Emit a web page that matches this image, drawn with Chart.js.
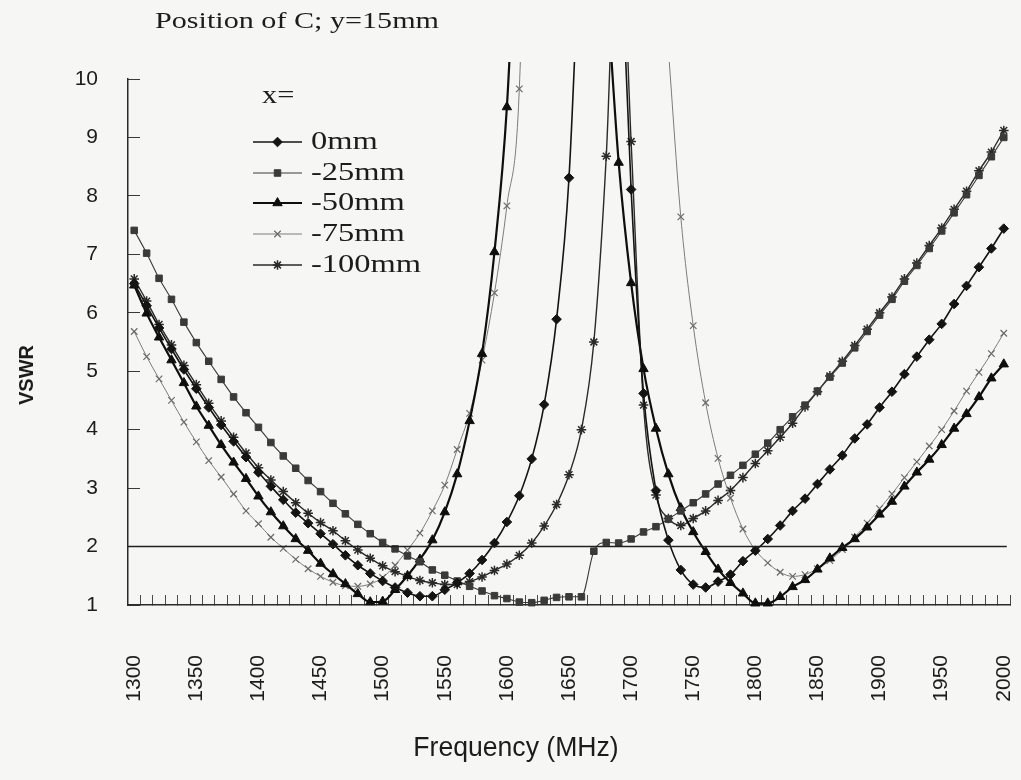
<!DOCTYPE html>
<html>
<head>
<meta charset="utf-8">
<title>VSWR vs Frequency</title>
<script src="https://cdn.jsdelivr.net/npm/chart.js@4.4.1/dist/chart.umd.min.js"></script>
<style>
  html, body { margin: 0; padding: 0; background: #f6f6f4; }
  #wrap { width: 1021px; height: 780px; position: relative; }
  canvas { display: block; }
</style>
</head>
<body>
<div id="wrap"><canvas id="chart" width="1021" height="780"></canvas></div>
<script>
// Frequency categories (MHz)
const frequencies = [
  1300, 1310, 1320, 1330, 1340, 1350, 1360, 1370, 1380, 1390,
  1400, 1410, 1420, 1430, 1440, 1450, 1460, 1470, 1480, 1490,
  1500, 1510, 1520, 1530, 1540, 1550, 1560, 1570, 1580, 1590,
  1600, 1610, 1620, 1630, 1640, 1650, 1660, 1670, 1680, 1690,
  1700, 1710, 1720, 1730, 1740, 1750, 1760, 1770, 1780, 1790,
  1800, 1810, 1820, 1830, 1840, 1850, 1860, 1870, 1880, 1890,
  1900, 1910, 1920, 1930, 1940, 1950, 1960, 1970, 1980, 1990, 2000
];

// Frequencies that carry a printed tick label
const labelledFrequencies = [1300, 1350, 1400, 1450, 1500, 1550, 1600, 1650, 1700, 1750, 1800, 1850, 1900, 1950, 2000];

// Y axis tick values
const vswrTicks = [1, 2, 3, 4, 5, 6, 7, 8, 9, 10];

// Reference level
const vswrLimit = 2;

// VSWR for x = 0 mm (null = far above the plotted range)
const vswrX0 = [
  6.50, 6.12, 5.74, 5.38, 5.03, 4.70, 4.38, 4.08, 3.80, 3.53,
  3.27, 3.03, 2.80, 2.58, 2.40, 2.22, 2.04, 1.85, 1.68, 1.54,
  1.41, 1.30, 1.21, 1.15, 1.15, 1.26, 1.38, 1.54, 1.77, 2.06,
  2.42, 2.87, 3.50, 4.43, 5.89, 8.31, 13.2, null, null, 13.3,
  8.11, 4.62, 2.96, 2.11, 1.60, 1.35, 1.30, 1.40, 1.52, 1.75,
  1.93, 2.13, 2.36, 2.61, 2.82, 3.07, 3.32, 3.56, 3.85, 4.09,
  4.38, 4.65, 4.95, 5.25, 5.54, 5.81, 6.15, 6.46, 6.78, 7.10, 7.44
];

// VSWR for x = -25 mm
const vswrX25 = [
  7.41, 7.02, 6.59, 6.23, 5.84, 5.49, 5.17, 4.86, 4.56, 4.29,
  4.04, 3.78, 3.55, 3.34, 3.13, 2.94, 2.74, 2.56, 2.38, 2.22,
  2.07, 1.96, 1.84, 1.74, 1.60, 1.51, 1.41, 1.32, 1.24, 1.16,
  1.11, 1.05, 1.04, 1.08, 1.13, 1.14, 1.14, 1.92, 2.07, 2.06,
  2.13, 2.25, 2.34, 2.47, 2.61, 2.75, 2.90, 3.07, 3.22, 3.39,
  3.58, 3.77, 4.00, 4.22, 4.42, 4.66, 4.90, 5.14, 5.40, 5.68,
  5.96, 6.23, 6.54, 6.81, 7.10, 7.40, 7.71, 8.02, 8.35, 8.67, 9.00
];

// VSWR for x = -50 mm
const vswrX50 = [
  6.47, 5.99, 5.58, 5.19, 4.80, 4.40, 4.07, 3.74, 3.44, 3.16,
  2.86, 2.59, 2.35, 2.13, 1.93, 1.71, 1.53, 1.36, 1.19, 1.05,
  1.06, 1.26, 1.50, 1.78, 2.11, 2.59, 3.24, 4.15, 5.30, 7.04,
  9.52, 14.0, null, null, null, null, null, null, 11.7, 8.57,
  6.51, 5.04, 4.02, 3.24, 2.66, 2.25, 1.91, 1.61, 1.38, 1.20,
  1.03, 1.03, 1.14, 1.31, 1.43, 1.61, 1.80, 1.98, 2.13, 2.33,
  2.55, 2.77, 3.03, 3.27, 3.49, 3.74, 4.02, 4.27, 4.56, 4.88, 5.12
];

// VSWR for x = -75 mm
const vswrX75 = [
  5.68, 5.25, 4.87, 4.50, 4.13, 3.79, 3.47, 3.19, 2.90, 2.61,
  2.39, 2.16, 1.97, 1.78, 1.62, 1.49, 1.39, 1.33, 1.32, 1.36,
  1.47, 1.68, 1.94, 2.23, 2.61, 3.05, 3.66, 4.28, 5.19, 6.34,
  7.83, 9.83, 18.0, null, null, null, null, null, null, null,
  null, null, null, 10.5, 7.64, 5.78, 4.46, 3.51, 2.83, 2.30,
  1.94, 1.72, 1.56, 1.49, 1.52, 1.62, 1.76, 1.95, 2.16, 2.40,
  2.65, 2.90, 3.18, 3.45, 3.72, 4.00, 4.32, 4.66, 4.98, 5.30, 5.65
];

// VSWR for x = -100 mm
const vswrX100 = [
  6.58, 6.20, 5.80, 5.45, 5.10, 4.77, 4.45, 4.15, 3.87, 3.60,
  3.35, 3.14, 2.94, 2.75, 2.57, 2.41, 2.27, 2.10, 1.94, 1.80,
  1.67, 1.57, 1.49, 1.42, 1.38, 1.35, 1.35, 1.40, 1.48, 1.59,
  1.70, 1.85, 2.06, 2.35, 2.72, 3.23, 4.00, 5.50, 8.68, 13.5,
  8.93, 4.42, 2.88, 2.48, 2.36, 2.48, 2.61, 2.79, 2.96, 3.18,
  3.42, 3.64, 3.87, 4.11, 4.39, 4.65, 4.92, 5.17, 5.44, 5.72,
  6.00, 6.27, 6.58, 6.85, 7.15, 7.45, 7.77, 8.08, 8.43, 8.75, 9.12
];

const seriesNames = ['0mm', '-25mm', '-50mm', '-75mm', '-100mm'];

const SERIF = '"Liberation Serif", "DejaVu Serif", serif';
const SANS = '"Liberation Sans", Arial, sans-serif';
const INK = '#1c1c1c';

function series(label, data, style) {
  return Object.assign({
    label: label,
    data: data,
    spanGaps: false,
    cubicInterpolationMode: 'monotone',
    clip: { left: 0, top: 17, right: 0, bottom: 6 },
    pointHoverRadius: 0
  }, style);
}

const datasets = [
  series(seriesNames[0], vswrX0, {
    borderColor: '#141414', backgroundColor: '#141414', borderWidth: 1.6,
    pointStyle: 'rectRot', pointRadius: 4.8, pointBorderWidth: 1,
    pointBackgroundColor: '#141414', pointBorderColor: '#141414'
  }),
  series(seriesNames[1], vswrX25, {
    borderColor: '#3a3a3a', backgroundColor: '#3a3a3a', borderWidth: 1.1,
    pointStyle: 'rect', pointRadius: 4.6, pointBorderWidth: 1,
    pointBackgroundColor: '#3a3a3a', pointBorderColor: '#3a3a3a'
  }),
  series(seriesNames[2], vswrX50, {
    borderColor: '#0e0e0e', backgroundColor: '#0e0e0e', borderWidth: 2.2,
    pointStyle: 'triangle', pointRadius: 5.4, pointBorderWidth: 1,
    pointBackgroundColor: '#0e0e0e', pointBorderColor: '#0e0e0e'
  }),
  series(seriesNames[3], vswrX75, {
    borderColor: '#7c7c7c', backgroundColor: '#7c7c7c', borderWidth: 1,
    pointStyle: 'crossRot', pointRadius: 4.6, pointBorderWidth: 1.2,
    pointBackgroundColor: '#6a6a6a', pointBorderColor: '#6a6a6a'
  }),
  series(seriesNames[4], vswrX100, {
    borderColor: '#2a2a2a', backgroundColor: '#2a2a2a', borderWidth: 1.4,
    pointStyle: 'star', pointRadius: 4.8, pointBorderWidth: 1.5,
    pointBackgroundColor: '#2a2a2a', pointBorderColor: '#2a2a2a'
  })
];

// Draw text squeezed or stretched horizontally
function drawScaledText(ctx, text, x, y, font, scaleX, align, baseline) {
  ctx.save();
  ctx.font = font;
  ctx.textAlign = align || 'left';
  ctx.textBaseline = baseline || 'middle';
  ctx.translate(x, y);
  ctx.scale(scaleX, 1);
  ctx.fillText(text, 0, 0);
  ctx.restore();
}

// VSWR = 2 limit line
const limitLinePlugin = {
  id: 'limitLine',
  afterDatasetsDraw(chart) {
    const { ctx, chartArea, scales } = chart;
    const y = scales.y.getPixelForValue(vswrLimit);
    const xEnd = scales.x.getPixelForValue(frequencies.length - 1) + 3;
    ctx.save();
    ctx.strokeStyle = '#202020';
    ctx.lineWidth = 1.6;
    ctx.beginPath();
    ctx.moveTo(chartArea.left, y);
    ctx.lineTo(xEnd, y);
    ctx.stroke();
    ctx.restore();
  }
};

// Title, axis titles and the in-plot legend
const annotationPlugin = {
  id: 'annotations',
  afterDraw(chart) {
    const { ctx, chartArea } = chart;
    ctx.save();
    ctx.fillStyle = INK;

    // chart title
    drawScaledText(ctx, 'Position of C; y=15mm', chartArea.left + 27, 22,
      '23px ' + SERIF, 1.31, 'left', 'middle');

    // y axis title
    ctx.save();
    ctx.translate(27, 375);
    ctx.rotate(-Math.PI / 2);
    ctx.font = 'bold 20px ' + SANS;
    ctx.textAlign = 'center';
    ctx.textBaseline = 'middle';
    ctx.fillText('VSWR', 0, 0);
    ctx.restore();

    // x axis title
    drawScaledText(ctx, 'Frequency (MHz)', 516, 748, '28px ' + SANS, 0.95, 'center', 'middle');

    // legend
    const lx = chartArea.left + 125;
    const lw = 49;
    const tx = chartArea.left + 183;
    drawScaledText(ctx, 'x=', chartArea.left + 134, chartArea.top + 17, '25px ' + SERIF, 1.22, 'left', 'middle');
    const rowY = [63, 94, 124, 155, 186];
    datasets.forEach((ds, i) => {
      const y = chartArea.top + rowY[i];
      ctx.save();
      ctx.strokeStyle = ds.borderColor;
      ctx.lineWidth = ds.borderWidth;
      ctx.beginPath();
      ctx.moveTo(lx, y);
      ctx.lineTo(lx + lw, y);
      ctx.stroke();
      ctx.fillStyle = ds.pointBackgroundColor;
      ctx.strokeStyle = ds.pointBorderColor;
      ctx.lineWidth = ds.pointBorderWidth;
      Chart.helpers.drawPoint(ctx, {
        pointStyle: ds.pointStyle,
        radius: ds.pointRadius,
        rotation: 0,
        borderWidth: ds.pointBorderWidth
      }, lx + lw / 2, y);
      ctx.restore();
      ctx.fillStyle = INK;
      drawScaledText(ctx, ds.label, tx, y, '26px ' + SERIF, 1.25, 'left', 'middle');
    });
    ctx.restore();
  }
};

const chart = new Chart(document.getElementById('chart'), {
  type: 'line',
  data: { labels: frequencies, datasets: datasets },
  options: {
    responsive: false,
    animation: false,
    events: [],
    layout: { padding: { top: 79, left: 0, right: 11, bottom: 0 } },
    plugins: {
      legend: { display: false },
      title: { display: false },
      tooltip: { enabled: false }
    },
    scales: {
      x: {
        type: 'category',
        offset: true,
        grid: {
          offset: true,
          drawOnChartArea: false,
          drawTicks: true,
          tickLength: -10,
          color: '#4a4a4a',
          lineWidth: 1
        },
        border: { display: true, color: '#2a2a2a', width: 1.5 },
        ticks: {
          autoSkip: false,
          maxRotation: 90,
          minRotation: 90,
          padding: 60,
          color: INK,
          font: { family: SANS, size: 21 },
          callback: function (value) {
            const f = frequencies[value];
            return labelledFrequencies.includes(f) ? String(f) : '';
          }
        },
        afterFit(scale) {
          scale.height = 175;
          scale.paddingLeft = 0;
          scale.paddingRight = 0;
        }
      },
      y: {
        type: 'linear',
        min: 1,
        max: 10,
        afterBuildTicks(scale) { scale.ticks = vswrTicks.map(v => ({ value: v })); },
        grid: {
          drawOnChartArea: false,
          drawTicks: true,
          tickLength: -12,
          color: '#3a3a3a',
          lineWidth: 1
        },
        border: { display: true, color: '#2a2a2a', width: 1.5 },
        ticks: {
          padding: 42,
          color: INK,
          font: { family: SANS, size: 21 }
        },
        afterFit(scale) {
          scale.width = 128;
          scale.paddingTop = 0;
          scale.paddingBottom = 0;
        }
      }
    }
  },
  plugins: [limitLinePlugin, annotationPlugin]
});
</script>
</body>
</html>
